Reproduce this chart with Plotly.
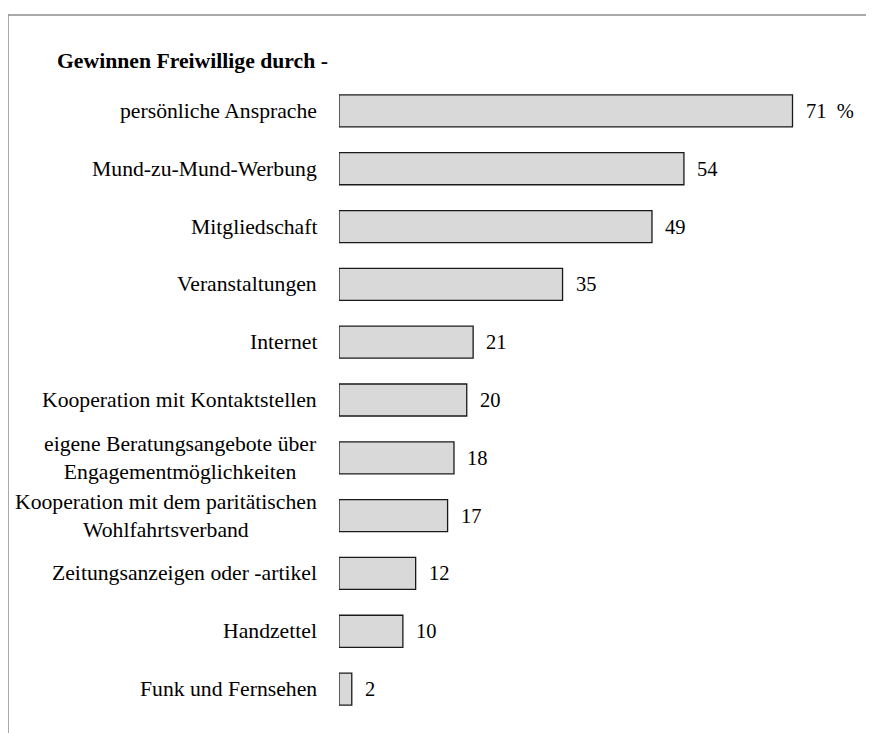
import plotly.graph_objects as go

categories = [
    "persönliche Ansprache",
    "Mund-zu-Mund-Werbung",
    "Mitgliedschaft",
    "Veranstaltungen",
    "Internet",
    "Kooperation mit Kontaktstellen",
    "eigene Beratungsangebote über<br>Engagementmöglichkeiten",
    "Kooperation mit dem paritätischen<br>Wohlfahrtsverband",
    "Zeitungsanzeigen oder -artikel",
    "Handzettel",
    "Funk und Fernsehen",
]
values = [71, 54, 49, 35, 21, 20, 18, 17, 12, 10, 2]
value_labels = ["71&nbsp;&nbsp;%", "54", "49", "35", "21", "20", "18", "17", "12", "10", "2"]
title_text = "Gewinnen Freiwillige durch -"

W, H = 874, 733
ML, MR, MT, MB = 331, 32, 74, 23
FONT = "'Liberation Serif', 'Times New Roman', Times, serif"

fig = go.Figure(
    go.Bar(
        x=values,
        y=categories,
        orientation="h",
        marker=dict(color="#d9d9d9", line=dict(color="#1a1a1a", width=1.3)),
        hoverinfo="skip",
    )
)

annotations = []
for cat, v, lab in zip(categories, values, value_labels):
    annotations.append(dict(
        x=0, y=cat, xref="x", yref="y", text=cat, showarrow=False,
        xanchor="right", yanchor="middle", xshift=-20, align="center",
        font=dict(family=FONT, size=21.7, color="black"),
    ))
    annotations.append(dict(
        x=v, y=cat, xref="x", yref="y", text=lab, showarrow=False,
        xanchor="left", yanchor="middle", xshift=11,
        font=dict(family=FONT, size=20.5, color="black"),
    ))

pw = W - ML - MR
ph = H - MT - MB
def px_x(p):
    return (p - ML) / pw
def px_y(p):
    return (H - MB - p) / ph

frame_left, frame_top = 0, 7
shapes = [
    dict(type="line", xref="paper", yref="paper",
         x0=px_x(frame_left), x1=px_x(W + 5), y0=px_y(frame_top), y1=px_y(frame_top),
         line=dict(color="#8c8c8c", width=1.5)),
    dict(type="line", xref="paper", yref="paper",
         x0=px_x(frame_left), x1=px_x(frame_left), y0=px_y(frame_top), y1=px_y(H + 5),
         line=dict(color="#8c8c8c", width=1.5)),
]

fig.update_layout(
    width=W, height=H,
    margin=dict(l=ML, r=MR, t=MT, b=MB),
    paper_bgcolor="white", plot_bgcolor="white",
    bargap=0.446,
    showlegend=False,
    title=dict(
        text="<b>" + title_text + "</b>",
        xref="container", yref="container",
        x=49 / W, xanchor="left", y=1 - 52 / H, yanchor="middle",
        font=dict(family=FONT, size=21.7, color="black"),
    ),
    xaxis=dict(range=[0, 80], visible=False, fixedrange=True),
    yaxis=dict(autorange="reversed", showticklabels=False, showgrid=False,
               zeroline=False, showline=False, ticks="", fixedrange=True),
    annotations=annotations,
    shapes=shapes,
    font=dict(family=FONT),
)

fig.write_html("out.html", config={"displayModeBar": False})
